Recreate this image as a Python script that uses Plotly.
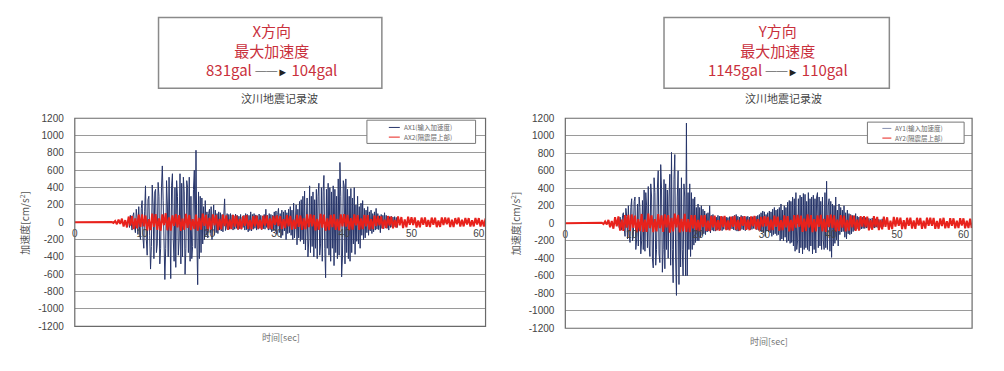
import plotly.graph_objects as go

W, H = 1004, 371
DT_RED = 0.25     # sampling interval of the digitised red records [sec]
DT_BLUE = 0.125   # sampling interval of the digitised blue records [sec]
T0_BLUE = 8.0

# ---------------- data (cm/s^2) ----------------
AX1 = [
    40, -60, 80, -30, -90, 70, 110, -50, -120, 150, 60, -140, 180, -100, -200, 160,
    250, -180, -300, 120, 420, -200, -380, 260, 300, -150, -540, -280, 430, 200, -420, 350,
    380, -350, -250, 460, 300, -480, -300, 400, 650, 250, -500, -660, -300, 480, 200, -400,
    520, -300, -650, 420, 560, -200, -450, 400, -520, 480, 300, -380, -200, 560, -480, 450,
    -400, 520, 350, -600, -300, 480, 400, -350, 520, -450, 300, -420, -280, 380, 600, -300,
    831, -200, -720, 350, -420, 300, -350, 280, -250, 180, -200, 250, -150, 120, -180, 100,
    150, -120, 180, -200, 90, 200, -150, 140, -120, 100, -130, 120, -90, 110, -100, 90,
    -110, 80, 270, -95, -60, 100, -85, 90, -80, 100, -70, 85, -90, 75, -80, 95,
    -70, 80, -85, 70, -75, 90, -80, 60, -60, 80, -90, 100, -85, 90, -110, 80,
    -95, 120, -100, 90, -80, 100, -70, 85, -90, 75, -80, 95, -70, 80, -85, 70,
    -75, 90, -80, 150, -60, 80, -90, 100, -85, 90, -110, 80, -95, 120, -100, 130,
    -140, 90, 160, -120, 100, -180, 140, -150, 120, -100, 140, -200, 110, -130, 150, -120,
    180, -150, 140, -200, 220, -180, 120, 200, -260, 150, -180, 240, -220, 260, -200, 300,
    -250, 360, -320, 200, 280, -400, -200, 420, -350, 300, -280, 350, -400, 260, -300, 380,
    -420, 300, 450, -380, -250, 400, -450, 350, 540, -300, -640, 380, -300, 450, -380, 400,
    -450, 350, -300, 420, -500, 380, -350, 300, -420, 500, -380, 690, 300, -630, -400, 480,
    420, -480, 500, -350, 380, -420, 300, -450, 390, -350, 280, -250, 400, -370, 200, -220,
    300, -250, 180, -300, 220, -150, 250, -200, 160, -180, 140, -120, 180, -150, 120, -100,
    140, -130, 100, -110, 120, -90, 160, -80, 100, -85, 75, -120, 90, -70, 80, -75,
    110, -65, 80, -70, 60, -90, 65, -60, 70, -55, 60, -55, 65, -50, 55, -60,
    50,
]
AX2 = [
    0, 0, 0, 0, 0, 0, 0, 0, 0, 0, 0, 0, 0, 0, 0, 0, 0, 0, 0, 0,
    0, 0, 3, -8, 15, -22, 30, -18, 42, -48, 25, -60, 66, -38, 72, -80, 45, -70, 88, -54,
    92, -46, 78, -95, 35, -90, 100, -52, 94, -88, 46, -98, 90, -34, 104, -92, 56, -96, 80, -40,
    95, -58, 82, -100, 42, -86, 98, -64, 84, -90, 36, -80, 88, -97, 50, -85, 100, -42, 86, -94,
    50, -88, 92, -36, 84, -90, 40, -82, 88, -44, 80, -86, 32, -78, 85, -50, 76, -82, 38, -80,
    74, -40, 82, -76, 28, -80, 72, -46, 78, -74, 30, -82, 76, -38, 80, -72, 46, -78, 74, -30,
    78, -44, 70, -80, 36, -68, 82, -48, 74, -84, 30, -76, 86, -52, 78, -88, 44, -80, 90, -56,
    92, -48, 84, -94, 40, -86, 96, -62, 88, -98, 44, -90, 86, -56, 92, -88, 38, -94, 90, -46,
    94, -50, 86, -92, 48, -84, 90, -36, 82, -88, 44, -80, 86, -48, 82, -84, 36, -80, 78, -44,
    72, -36, 68, -74, 30, -66, 72, -38, 64, -70, 26, -62, 68, -34, 60, -66, 32, -58, 64, -30,
    58, -32, 56, -60, 22, -58, 54, -30, 56, -52, 26, -56, 54, -28, 52, -56, 20, -54, 56, -32,
    54, -24, 52, -56, 30, -54, 48, -22, 54, -50, 28, -48, 50, -26, 48, -50, 22, -48, 50, -26,
    48, -50, 26, -48, 44,
]
AY1 = [
    30, -50, 70, -40, -80, 90, 120, -60, -150, 170, 80, -180, 200, -120, -220, 180,
    280, -200, -150, 250, 300, -300, -180, 220, -260, 300, 180, -350, -200, 260, -300, 380,
    -320, 350, 200, -280, 420, -250, -380, 450, 300, -400, -510, 520, 350, -480, -300, 400,
    600, -350, -450, 670, 400, -560, -300, 500, -520, 450, -300, 380, -400, 300, 560, -480,
    810, -300, -680, 500, 785, -400, -825, 300, 600, -700, 400, -500, 520, -300, -600, 450,
    300, -600, 1145, -600, 350, -300, 450, -380, 350, -300, 280, -250, 300, -220, 180, -200,
    220, -200, 180, -160, 200, -140, 160, -120, 140, -130, 110, -100, 120, -90, 200, -110,
    90, -80, 100, -90, 80, -90, 70, -80, 90, -70, 80, -75, 70, -85, 75, -70,
    80, -65, 70, -75, 65, -70, 75, -60, 70, -65, 80, -75, 90, -80, 100, -90,
    80, -90, 70, -80, 90, -70, 80, -75, 70, -85, 75, -70, 80, -65, 70, -75,
    65, -70, 75, -60, 70, -65, 80, -75, 90, -80, 100, -90, 120, -100, 140, -110,
    130, -150, 100, -90, 120, -100, 140, -110, 130, -150, 160, -130, 180, -120, 150, -140,
    160, -130, 180, -200, 220, -180, 150, -200, 200, -160, 180, -220, 240, -200, 260, -230,
    250, -220, 300, -260, 280, -320, 350, -300, -200, 280, -340, 320, -280, 300, -350, 340,
    -300, 330, -280, 250, -300, 350, -320, 280, -260, 300, -350, 320, -300, 280, -340, 300,
    350, -280, 300, -260, 250, -300, 300, -200, -300, 350, -280, 480, -300, 200, 280, -320,
    250, -390, 220, -260, 200, -230, 300, -190, 150, -260, 220, -130, 180, -100, 150, -95,
    200, -160, 120, -180, 150, -120, 110, -130, 100, -120, 90, -95, 85, -80, 110, -70,
    80, -65, 70, -75, 60, -65, 70, -60, 55, -60, 65, -55, 60, -50, 55, -60,
    50, -55, 60, -50, 45, -55, 50, -45, 55, -50, 45, -50, 40, -45, 50, -40,
    45,
]
AY2 = [
    0, 0, 0, 0, 0, 0, 0, 0, 0, 0, 0, 0, 0, 0, 0, 0, 0, 0, 0, 0,
    0, 0, 5, -10, 20, -14, 38, -45, 25, -62, 70, -36, 78, -85, 40, -88, 92, -50, 96, -90,
    100, -52, 88, -104, 46, -90, 106, -98, 42, -100, 110, -55, 90, -102, 48, -94, 104, -56, 90, -100,
    102, -46, 94, -108, 60, -92, 110, -48, 96, -104, 50, -94, 108, -100, 46, -102, 92, -58, 94, -90,
    38, -94, 90, -44, 92, -86, 30, -90, 84, -48, 88, -82, 36, -86, 80, -44, 84, -78, 32, -82,
    76, -40, 84, -72, 38, -84, 74, -30, 82, -76, 40, -80, 78, -34, 84, -70, 46, -82, 72, -38,
    80, -36, 74, -84, 42, -78, 86, -40, 76, -88, 34, -80, 90, -46, 82, -92, 38, -84, 94, -50,
    96, -42, 88, -98, 54, -90, 100, -46, 92, -102, 48, -94, 90, -40, 96, -92, 50, -98, 94, -44,
    98, -54, 90, -96, 42, -88, 94, -50, 86, -92, 38, -84, 90, -46, 86, -88, 40, -84, 82, -38,
    80, -44, 76, -82, 36, -74, 80, -40, 72, -78, 34, -70, 76, -42, 68, -74, 30, -66, 72, -38,
    66, -30, 64, -68, 34, -66, 62, -28, 64, -60, 32, -64, 62, -26, 60, -64, 30, -62, 64, -28,
    62, -30, 60, -64, 26, -62, 56, -32, 62, -58, 24, -56, 58, -30, 56, -58, 28, -56, 58, -26,
    56, -58, 28, -56, 52, -54,
]

Y_TICKS = [-1200, -1000, -800, -600, -400, -200, 0, 200, 400, 600, 800, 1000, 1200]
X_TICKS = [0, 10, 20, 30, 40, 50, 60]
NAMES_X = ["AX1(输入加速度)", "AX2(隔震层上部)"]
NAMES_Y = ["AY1(输入加速度)", "AY2(隔震层上部)"]
PANEL_TITLE = "汶川地震记录波"
HEAD_X = ["X方向", "最大加速度", "831gal", "104gal"]
HEAD_Y = ["Y方向", "最大加速度", "1145gal", "110gal"]


def times(vals, dt, t0=0.0):
    return [t0 + i * dt for i in range(len(vals))]


def px(x):
    return x / W


def py(y):
    return 1 - y / H


BLUE = "#27356a"
RED = "#e8221c"
TXT_RED = "#c9303c"
CJK = "Noto Sans CJK SC"

fig = go.Figure()
fig.add_trace(go.Scatter(x=times(AX1, DT_BLUE, T0_BLUE), y=AX1, name=NAMES_X[0], mode="lines",
                         line=dict(color=BLUE, width=1), xaxis="x", yaxis="y"))
fig.add_trace(go.Scatter(x=times(AX2, DT_RED), y=AX2, name=NAMES_X[1], mode="lines",
                         line=dict(color=RED, width=2), xaxis="x", yaxis="y"))
fig.add_trace(go.Scatter(x=times(AY1, DT_BLUE, T0_BLUE), y=AY1, name=NAMES_Y[0], mode="lines",
                         line=dict(color=BLUE, width=1), xaxis="x2", yaxis="y2"))
fig.add_trace(go.Scatter(x=times(AY2, DT_RED), y=AY2, name=NAMES_Y[1], mode="lines",
                         line=dict(color=RED, width=2), xaxis="x2", yaxis="y2"))

L_DOM_Y = [py(331), py(116)]
R_DOM_Y = [py(333), py(116)]

tickfont = dict(family="Liberation Sans", size=10, color="#444")


def xaxis(dom, rng, ydom):
    return dict(domain=dom, range=rng, anchor="free", position=(ydom[0] + ydom[1]) / 2,
                showgrid=False, zeroline=False, showline=False,
                tickvals=X_TICKS, ticktext=[str(v) for v in X_TICKS],
                ticks="outside", ticklen=2, tickcolor="rgba(0,0,0,0)", tickfont=tickfont)


def yaxis(dom, anchor):
    return dict(domain=dom, range=[-1200, 1200], anchor=anchor,
                showgrid=True, gridcolor="#9a9a9a", gridwidth=1, zeroline=False, showline=False,
                tickvals=Y_TICKS, ticktext=[str(v) for v in Y_TICKS],
                ticks="outside", ticklen=8, tickcolor="rgba(0,0,0,0)", tickfont=tickfont)


fig.update_layout(
    width=W, height=H, margin=dict(l=0, r=0, t=0, b=0),
    paper_bgcolor="white", plot_bgcolor="white",
    xaxis=xaxis([px(72), px(484)], [0, 61], L_DOM_Y),
    yaxis=yaxis(L_DOM_Y, "x"),
    xaxis2=xaxis([px(564), px(972)], [0, 61.3], R_DOM_Y),
    yaxis2=yaxis(R_DOM_Y, "x2"),
    showlegend=False,
)

shapes = []
ann = []


def text(x, y, s, size, color, xanchor="center", angle=0, family=CJK):
    ann.append(dict(x=px(x), y=py(y), xref="paper", yref="paper", text=s, showarrow=False,
                    xanchor=xanchor, yanchor="middle", textangle=angle,
                    font=dict(family=family, size=size, color=color)))


for xr, yr in (("x domain", "y domain"), ("x2 domain", "y2 domain")):
    shapes.append(dict(type="rect", xref=xr, yref=yr, x0=0, x1=1, y0=0, y1=1,
                       line=dict(color="#6a6a6a", width=1.2), fillcolor="rgba(0,0,0,0)"))

# header boxes
shapes.append(dict(type="rect", xref="paper", yref="paper", x0=px(156), x1=px(380), y0=py(85), y1=py(12),
                   line=dict(color="#8a8a8a", width=1.5)))
shapes.append(dict(type="rect", xref="paper", yref="paper", x0=px(663), x1=px(889), y0=py(85), y1=py(12),
                   line=dict(color="#8a8a8a", width=1.5)))


# legends (compact boxes as in the original chart)
def legend(x0, x1, y0, y1, lx0, lx1, rows, names):
    shapes.append(dict(type="rect", xref="paper", yref="paper", x0=px(x0), x1=px(x1), y0=py(y1), y1=py(y0),
                       line=dict(color="#777", width=1), fillcolor="white", layer="above"))
    for (ry, color), name in zip(rows, names):
        shapes.append(dict(type="line", xref="paper", yref="paper", x0=px(lx0), x1=px(lx1),
                           y0=py(ry), y1=py(ry), line=dict(color=color, width=1), layer="above"))
        text(lx1 + 2, ry, name, 6.5, "#666", xanchor="left")


legend(365, 474, 118, 142, 387, 398, [(125.5, BLUE), (135.5, RED)], NAMES_X)
legend(867, 964, 120, 142, 882, 891, [(126.5, "#8891b0"), (136.5, RED)], NAMES_Y)


def header(cx, head):
    arrow = "<span style='font-size:11px;color:#222'>──►</span>"
    s = f"{head[0]}<br>{head[1]}<br>{head[2]} {arrow} {head[3]}"
    text(cx, 45, s, 15, TXT_RED)


header(269, HEAD_X)
header(777, HEAD_Y)

text(277, 95, PANEL_TITLE, 11, "#444")
text(783, 95, PANEL_TITLE, 11, "#444")

text(22, 224, "加速度[cm/s<sup>2</sup>]", 10, "#555", angle=-90)
text(514, 224, "加速度[cm/s<sup>2</sup>]", 10, "#555", angle=-90)

text(279, 343, "时间[sec]", 9, "#777")
text(768, 347, "时间[sec]", 9, "#777")

fig.update_layout(shapes=shapes, annotations=ann)

fig.write_html("out.html", config={"displayModeBar": False},
               post_script="document.body.style.margin='0px';")
